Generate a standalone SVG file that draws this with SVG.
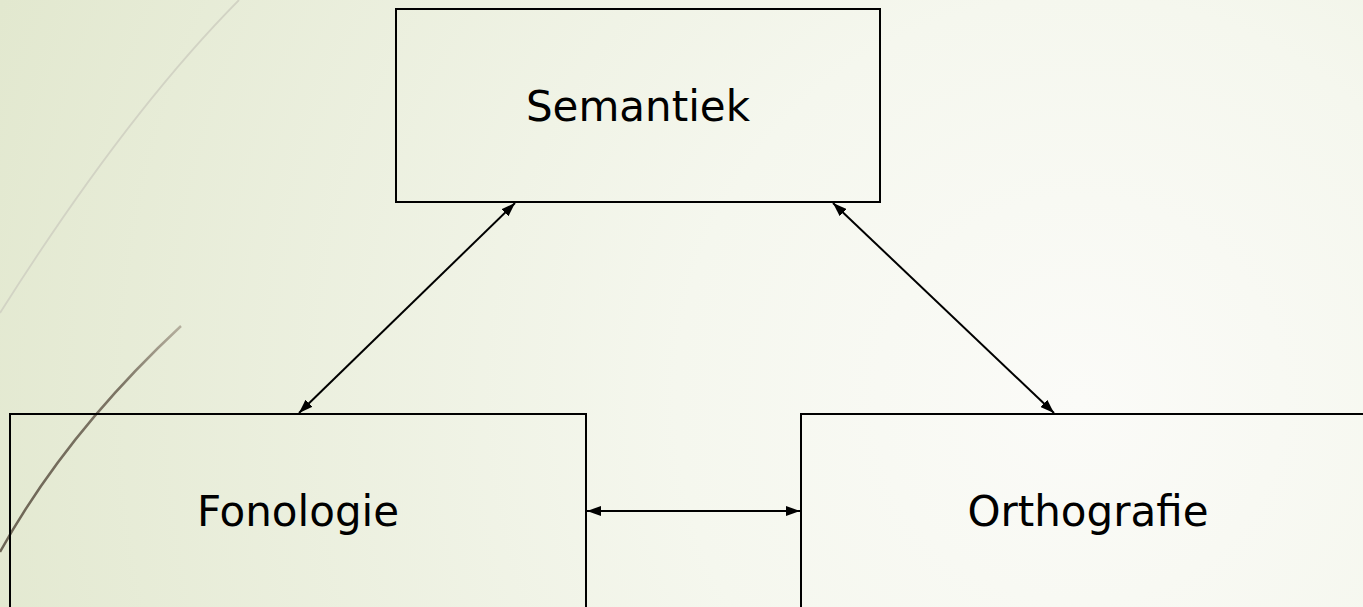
<svg xmlns="http://www.w3.org/2000/svg" width="1363" height="607" viewBox="0 0 1363 607">
  <defs>
    <radialGradient id="bg" cx="1080" cy="400" r="1150" gradientUnits="userSpaceOnUse">
      <stop offset="0" stop-color="#fbfbf8"/>
      <stop offset="0.35" stop-color="#f5f7ee"/>
      <stop offset="1" stop-color="#e2e8cf"/>
    </radialGradient>
    <linearGradient id="dark" x1="181" y1="326" x2="0" y2="552" gradientUnits="userSpaceOnUse">
      <stop offset="0" stop-color="#b5af9e"/>
      <stop offset="0.3" stop-color="#7c7464"/>
      <stop offset="1" stop-color="#6c6454"/>
    </linearGradient>
    <marker id="ah" viewBox="0 0 14 10" refX="14" refY="5" markerWidth="14" markerHeight="10" orient="auto-start-reverse" markerUnits="userSpaceOnUse">
      <path d="M0,0 L14,5 L0,10 z" fill="#000"/>
    </marker>
  </defs>
  <style>
    .box { fill: none; stroke: #000; stroke-width: 2; }
    .lbl { font-family: "DejaVu Sans", "Liberation Sans", sans-serif; font-size: 42px; fill: #000; text-anchor: middle; }
    .conn { stroke: #000; stroke-width: 2; fill: none; marker-start: url(#ah); marker-end: url(#ah); }
  </style>
  <rect x="0" y="0" width="1363" height="607" fill="url(#bg)"/>
  <path d="M239,0 Q125,115 0,313" fill="none" stroke="#d2d3c4" stroke-width="1.8"/>
  <path d="M181,326 Q66,433 0,552" fill="none" stroke="url(#dark)" stroke-width="2.5"/>
  <g id="semantiek">
    <rect class="box" x="396" y="9" width="484" height="193"/>
    <text class="lbl" x="638" y="121">Semantiek</text>
  </g>
  <g id="fonologie">
    <rect class="box" x="10" y="414" width="576" height="210"/>
    <text class="lbl" x="298" y="526">Fonologie</text>
  </g>
  <g id="orthografie">
    <rect class="box" x="801" y="414" width="590" height="210"/>
    <text class="lbl" x="1088" y="526">Orthografie</text>
  </g>
  <g id="connectors">
    <line class="conn" x1="515" y1="203" x2="299" y2="413"/>
    <line class="conn" x1="833" y1="203" x2="1054" y2="413"/>
    <line class="conn" x1="587" y1="511" x2="800" y2="511"/>
  </g>
</svg>
